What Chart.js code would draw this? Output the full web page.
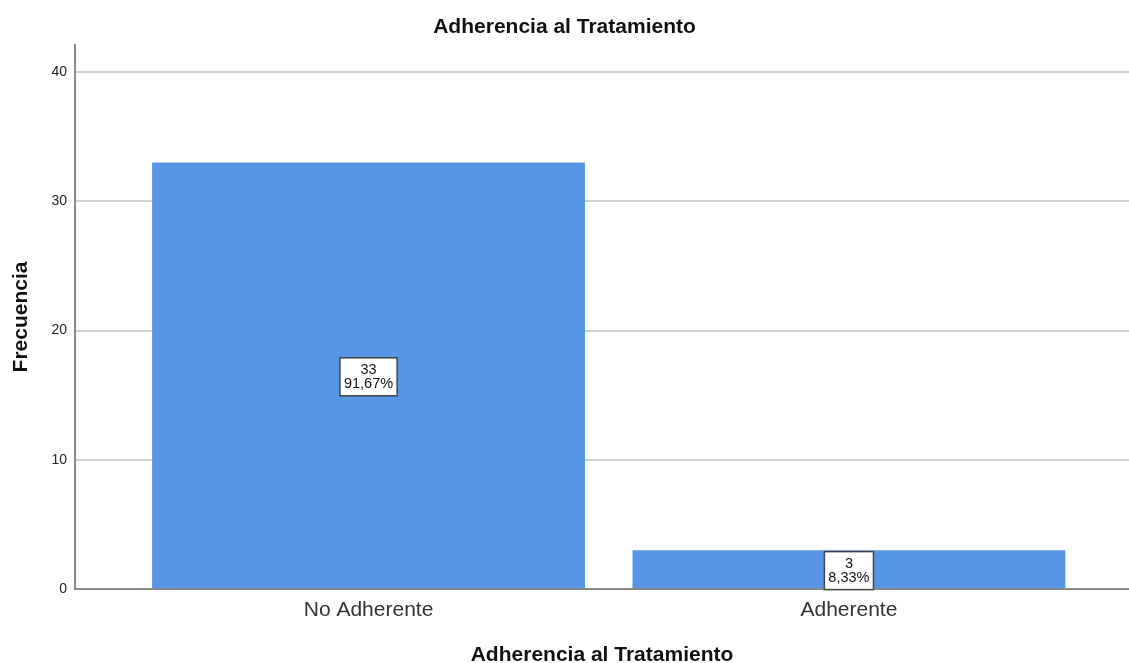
<!DOCTYPE html>
<html>
<head>
<meta charset="utf-8">
<script src="https://cdn.jsdelivr.net/npm/chart.js@4"></script>
<style>
  body { margin: 0; background: #fff; }
</style>
</head>
<body>
<canvas id="myChart" width="1129" height="663"></canvas>
<script>
// Datos
const categorias = ['No Adherente', 'Adherente'];
const frecuencias = [33, 3];
const porcentajes = ['91,67%', '8,33%'];
const ticksY = [0, 10, 20, 30, 40];

const ctx = document.getElementById('myChart').getContext('2d');
const FUENTE = 'Arial, "Liberation Sans", sans-serif';

// caja blanca con frecuencia y porcentaje en el centro de cada barra
const etiquetas = {
    id: 'etiquetas',
    afterDatasetsDraw(chart) {
        const c = chart.ctx;
        const meta = chart.getDatasetMeta(0);
        c.save();
        c.font = '14.5px ' + FUENTE;
        c.textAlign = 'center';
        c.textBaseline = 'middle';
        meta.data.forEach((bar, i) => {
            const cx = bar.x;
            const cy = (bar.y + bar.base) / 2 + 1.5;
            const l1 = String(frecuencias[i]);
            const l2 = porcentajes[i];
            const w = Math.max(c.measureText(l1).width, c.measureText(l2).width) + 8;
            const h = 38;
            c.fillStyle = '#fff';
            c.fillRect(cx - w / 2, cy - h / 2, w, h);
            c.strokeStyle = '#444';
            c.lineWidth = 1.5;
            c.strokeRect(cx - w / 2, cy - h / 2, w, h);
            c.fillStyle = '#111';
            c.fillText(l1, cx, cy - 6.5);
            c.fillText(l2, cx, cy + 7);
        });
        c.restore();
    }
};

const myChart = new Chart(ctx, {
    type: 'bar',
    data: {
        datasets: [{
            label: 'Frecuencia',
            data: frecuencias.map((v, i) => ({ x: i, y: v })),
            backgroundColor: '#5596e6',
            borderWidth: 0,
            categoryPercentage: 1,
            barPercentage: 0.901,
        }]
    },
    options: {
        responsive: false,
        animation: false,
        layout: { padding: 0 },
        plugins: {
            legend: { display: false },
            tooltip: { enabled: false },
            title: {
                display: true,
                text: 'Adherencia al Tratamiento',
                color: '#111',
                font: { family: FUENTE, size: 21, weight: 'bold' },
                padding: { top: 15, bottom: 4.8 }
            }
        },
        scales: {
            x: {
                type: 'linear',
                offset: false,
                min: -0.611,
                max: 1.583,
                afterBuildTicks: (scale) => { scale.ticks = [{ value: 0 }, { value: 1 }]; },
                afterFit: (scale) => { scale.height = 74; },
                ticks: {
                    callback: (v) => categorias[v] ?? '',
                    color: '#333',
                    padding: 9,
                    maxRotation: 0,
                    font: { family: FUENTE, size: 21 }
                },
                grid: { display: false, drawTicks: false },
                border: { color: '#888', width: 2 },
                title: {
                    display: true,
                    text: 'Adherencia al Tratamiento',
                    color: '#111',
                    font: { family: FUENTE, size: 21, weight: 'bold' },
                    padding: { top: 0, bottom: -5 }
                }
            },
            y: {
                min: 0,
                max: 42.1,
                afterBuildTicks: (scale) => { scale.ticks = ticksY.map(v => ({ value: v })); },
                afterFit: (scale) => { scale.width = 75; },
                ticks: {
                    color: '#222',
                    padding: 8,
                    font: { family: FUENTE, size: 14 }
                },
                grid: {
                    color: (c) => c.tick && c.tick.value === 0 ? 'rgba(0,0,0,0)' : '#d0d0d0',
                    lineWidth: 2,
                    drawTicks: false
                },
                border: { color: '#888', width: 2 },
                title: {
                    display: true,
                    text: 'Frecuencia',
                    color: '#111',
                    font: { family: FUENTE, size: 21, weight: 'bold' },
                    padding: { top: 9, bottom: 0 }
                }
            }
        }
    },
    plugins: [etiquetas]
});
</script>
</body>
</html>
